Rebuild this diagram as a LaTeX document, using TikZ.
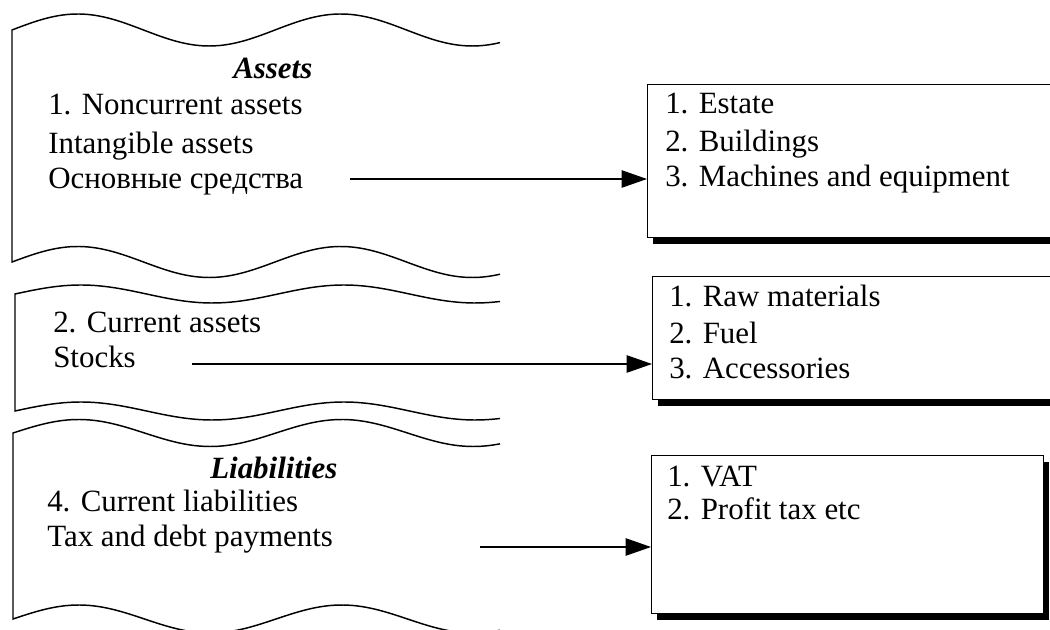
\documentclass[tikz,border=0pt]{standalone}
\usepackage{fontspec}
\setmainfont{Liberation Serif}
\usetikzlibrary{arrows.meta,shadows}

\begin{document}
\begin{tikzpicture}[x=0.75pt,y=-0.75pt,
  wave/.style={line width=1.1pt},
  listbox/.style={draw, line width=0.8pt, fill=white, rectangle, inner sep=0pt,
    anchor=north west,
    drop shadow={shadow xshift=3.75pt, shadow yshift=-4.5pt, fill=black, opacity=1}},
  txt/.style={anchor=base west, inner sep=0pt, font=\fontsize{23.2}{27}\selectfont},
  head/.style={anchor=base west, inner sep=0pt, font=\fontsize{23.2}{27}\selectfont\bfseries\itshape},
  arr/.style={line width=1.1pt, -{Triangle[length=19pt,width=13pt]}}]

\useasboundingbox (0,0) rectangle (1050,630);
\clip (0,0) rectangle (1050,630);

% wavy banners on the left (one wave period = 263 units, 360/263 = 1.3688 deg per unit)
\draw[wave] plot[domain=500:12, samples=110, smooth] (\x, {30-16*sin((\x-12)*1.3688)})
  -- plot[domain=12:500, samples=110, smooth] (\x, {262-15.5*sin((\x-12)*1.3688)});
\draw[wave] plot[domain=500:15, samples=110, smooth] (\x, {294-9*sin((\x-15)*1.3688)})
  -- plot[domain=15:500, samples=110, smooth] (\x, {411-9*sin((\x-15)*1.3688)});
\draw[wave] plot[domain=500:13, samples=110, smooth] (\x, {433-13.5*sin((\x-13)*1.3688)})
  -- plot[domain=13:500, samples=110, smooth] (\x, {619-14*sin((\x-13)*1.3688)});

% banner texts
\node[head] (hA) at (233,78.7) {Assets};
\node[txt] (a1t) at (48,115) {1. Noncurrent assets};
\node[txt] (a2t) at (48,153.3) {Intangible assets};
\node[txt] (a3t) at (48,188.3) {Основные средства};

\node[txt] (c1t) at (53,333) {2. Current assets};
\node[txt] (c2t) at (53,368) {Stocks};

\node[head] (hL) at (210,478.3) {Liabilities};
\node[txt] (l1t) at (47,511.7) {4. Current liabilities};
\node[txt] (l2t) at (47,546.7) {Tax and debt payments};

% list boxes on the right
\node[listbox, minimum width=324.75pt, minimum height=114.75pt] (box1) at (647,84) {};
\node[listbox, minimum width=321pt, minimum height=92.25pt] (box2) at (652,276) {};
\node[listbox, minimum width=294pt, minimum height=118.5pt] (box3) at (651,455) {};

\node[txt] (b11) at (665,113.3) {1. Estate};
\node[txt] (b12) at (665,151.7) {2. Buildings};
\node[txt] (b13) at (665,186.7) {3. Machines and equipment};

\node[txt] (b21) at (669,306.7) {1. Raw materials};
\node[txt] (b22) at (669,343.3) {2. Fuel};
\node[txt] (b23) at (669,378.3) {3. Accessories};

\node[txt] (b31) at (667,486.7) {1. VAT};
\node[txt] (b32) at (667,520) {2. Profit tax etc};

% connectors
\coordinate (s1) at (350,179);
\coordinate (s2) at (192,364);
\coordinate (s3) at (480,547);
\draw[arr] (s1) -- (s1 -| box1.west);
\draw[arr] (s2) -- (s2 -| box2.west);
\draw[arr] (s3) -- (s3 -| box3.west);
\end{tikzpicture}
\end{document}
